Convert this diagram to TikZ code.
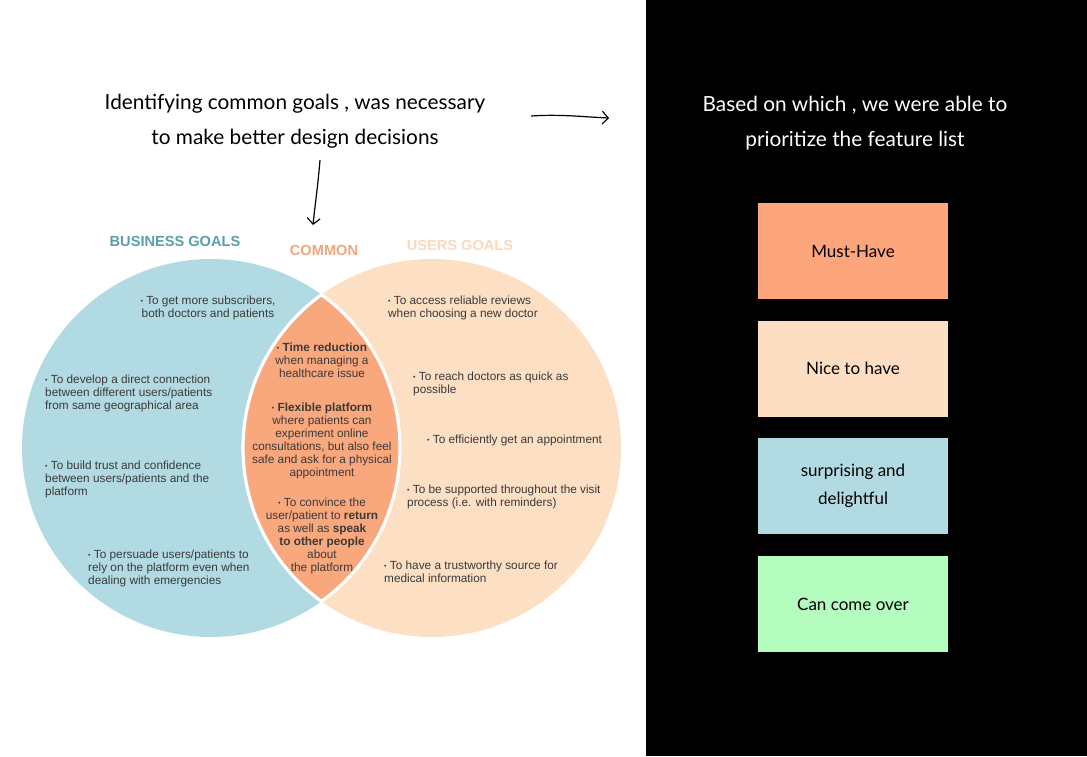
\documentclass[tikz,border=0pt]{standalone}
\usepackage{fontspec}
\setmainfont{Liberation Sans}
\newfontfamily\hand{Lato}
\usetikzlibrary{arrows.meta}
\definecolor{bizblue}{HTML}{B2DAE2}
\definecolor{userpeach}{HTML}{FDDFC4}
\definecolor{lensorange}{HTML}{F9A77C}
\definecolor{bizhead}{HTML}{5A9FAB}
\definecolor{comhead}{HTML}{F4A57E}
\definecolor{userhead}{HTML}{FCD9BD}
\definecolor{bodytext}{HTML}{3A3A3A}
\definecolor{mustc}{HTML}{FDA57B}
\definecolor{nicec}{HTML}{FDDEC3}
\definecolor{surpc}{HTML}{B2DAE2}
\definecolor{canc}{HTML}{B5FDBF}
\newcommand{\bul}{{\fontsize{7}{7}\selectfont\raisebox{1pt}{•}}\ }
\tikzset{
  body/.style={font=\fontsize{11.8}{13}\selectfont, text=bodytext, inner sep=0pt, align=left, anchor=north west},
  bodyc/.style={font=\fontsize{11.8}{13}\selectfont, text=bodytext, inner sep=0pt, align=center, anchor=north},
  head/.style={font=\fontsize{14.6}{16}\selectfont\bfseries, inner sep=0pt},
  handtext/.style={font=\hand\fontsize{20.8}{35}\selectfont, align=center, inner sep=0pt},
  prio/.style={minimum width=190pt, minimum height=96pt, inner sep=0pt, font=\hand\fontsize{17}{28}\selectfont, align=center, text=black},
  sketcharrow/.style={line width=1.2pt, -{Straight Barb[length=6pt,width=13pt]}}
}
\begin{document}
\begin{tikzpicture}[x=1pt,y=-1pt]
\useasboundingbox (0,0) rectangle (1087,756);
\fill[white] (0,0) rectangle (646,756);
\fill[black] (646,0) rectangle (1087,756);

% circles
\coordinate (L) at (211,448);
\coordinate (R) at (432,448);
\fill[bizblue] (L) circle (189);
\fill[userpeach] (R) circle (189);
\begin{scope}
  \clip (L) circle (189);
  \fill[lensorange] (R) circle (189);
  \draw[white, line width=3.2pt] (R) circle (189);
\end{scope}
\begin{scope}
  \clip (R) circle (189);
  \draw[white, line width=3.2pt] (L) circle (189);
\end{scope}

% headings
\node[head, text=bizhead] (hbiz) at (175,241) {BUSINESS GOALS};
\node[head, text=comhead] (hcom) at (324,250) {COMMON};
\node[head, text=userhead] (huser) at (460,245) {USERS GOALS};

% business goals
\node[bodyc] (b1) at (208,296) {\bul To get more subscribers,\\both doctors and patients};
\node[body] (b2) at (45,375) {\bul To develop a direct connection\\between different users/patients\\from same geographical area};
\node[body] (b3) at (45,461) {\bul To build trust and confidence\\between users/patients and the\\platform};
\node[body] (b4) at (88,550) {\bul To persuade users/patients to\\rely on the platform even when\\dealing with emergencies};

% common
\node[bodyc] (c1) at (322,343) {\bul\textbf{Time reduction}\\when managing a\\healthcare issue};
\node[bodyc] (c2) at (322,403) {\bul\textbf{Flexible platform}\\where patients can\\experiment online\\consultations, but also feel\\safe and ask for a physical\\appointment};
\node[bodyc] (c3) at (322,498) {\bul To convince the\\user/patient to \textbf{return}\\as well as \textbf{speak}\\\textbf{to other people}\\about\\the platform};

% users goals
\node[body] (u1) at (388,296) {\bul To access reliable reviews\\when choosing a new doctor};
\node[body] (u2) at (413,372) {\bul To reach doctors as quick as\\possible};
\node[body] (u3) at (427,435) {\bul To efficiently get an appointment};
\node[body] (u4) at (407,485) {\bul To be supported throughout the visit\\process (i.e. with reminders)};
\node[body] (u5) at (384,561) {\bul To have a trustworthy source for\\medical information};

% handwritten texts
\node[handtext, text=black] (title) at (295,121) {Identifying common goals , was necessary\\to make better design decisions};
\node[handtext, text=white] (based) at (855,123.5) {Based on which , we were able to\\prioritize the feature list};

% arrows
\coordinate (a1s) at (531,116);
\coordinate (a1e) at (609,118);
\draw[sketcharrow] (a1s) .. controls (560,114) and (585,117) .. (a1e);
\coordinate (a2s) at (320,160);
\coordinate (a2e) at (313,225);
\draw[sketcharrow] (a2s) .. controls (318,185) and (315,205) .. (a2e);

% priority boxes
\node[prio, fill=mustc] (must) at (853,251) {Must-Have};
\node[prio, fill=nicec] (nice) at (853,368.5) {Nice to have};
\node[prio, fill=surpc] (surp) at (853,486) {surprising and\\delightful};
\node[prio, fill=canc] (can) at (853,604) {Can come over};
\end{tikzpicture}
\end{document}
